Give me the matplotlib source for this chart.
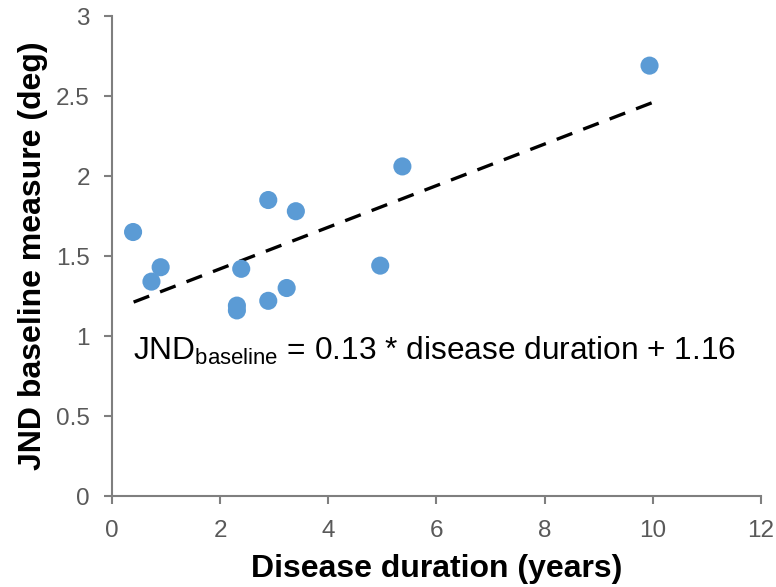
import numpy as np
import matplotlib
matplotlib.use("Agg")
import matplotlib.pyplot as plt

plt.rcParams['font.family'] = ['Liberation Sans', 'DejaVu Sans']
plt.rcParams['mathtext.fontset'] = 'custom'
plt.rcParams['mathtext.rm'] = 'Liberation Sans'

duration = [0.39, 0.73, 0.90, 2.39, 2.31, 2.31, 2.89, 3.23, 2.89, 3.40, 4.96, 5.37, 9.94]
jnd = [1.65, 1.34, 1.43, 1.42, 1.19, 1.16, 1.22, 1.30, 1.85, 1.78, 1.44, 2.06, 2.69]
slope = 0.13
intercept = 1.16
fit_range = [0.4, 10.0]

axis_gray = "#7f7f7f"
label_gray = "#595959"

fig = plt.figure(figsize=(7.76, 5.87), dpi=100)
ax = fig.add_axes([0.1443, 0.155, 0.8363, 0.8177])

ax.scatter(duration, jnd, s=170, color="#5B9BD5", edgecolors="none", zorder=3)

xf = np.array(fit_range)
ax.plot(xf, slope * xf + intercept, color="black", lw=2.4, ls=(0, (5, 3.5)), zorder=2)

ax.text(0.39, 0.85, r"JND$_{\mathrm{baseline}}$ = 0.13 * disease duration + 1.16",
        fontsize=22.8, va="baseline", ha="left", color="black")

ax.set_xlim(0, 12)
ax.set_ylim(0, 3)
ax.set_xticks(range(0, 13, 2))
ax.set_yticks([0, 0.5, 1, 1.5, 2, 2.5, 3])
ax.set_yticklabels(["0", "0.5", "1", "1.5", "2", "2.5", "3"])

for s in ["top", "right"]:
    ax.spines[s].set_visible(False)
for s in ["left", "bottom"]:
    ax.spines[s].set_color(axis_gray)
    ax.spines[s].set_linewidth(1.5)
ax.tick_params(axis="both", colors=axis_gray, labelcolor=label_gray,
               labelsize=17.5, width=1.5, length=6, direction="out")
ax.tick_params(axis="x", pad=11)
ax.tick_params(axis="y", pad=10)

ax.set_xlabel("Disease duration (years)", fontsize=23, fontweight="bold", labelpad=9)
ax.set_ylabel("JND baseline measure (deg)", fontsize=23, fontweight="bold", labelpad=6)

fig.savefig("out.png", dpi=100)
